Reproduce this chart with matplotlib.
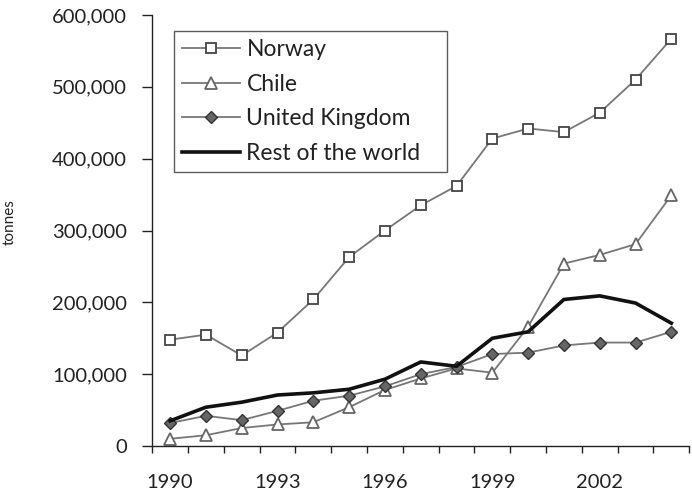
import matplotlib
matplotlib.use("Agg")
import matplotlib.pyplot as plt
import matplotlib.ticker as ticker
import numpy as np

years = list(range(1990, 2005))
norway = [148000, 155000, 126000, 158000, 204000, 263000, 300000, 335000,
          362000, 428000, 442000, 437000, 464000, 510000, 567000]
chile = [10000, 15000, 25000, 30000, 33000, 54000, 78000, 94000,
         108000, 102000, 166000, 254000, 266000, 281000, 349000]
uk = [32000, 42000, 36000, 49000, 63000, 70000, 83000, 100000,
      110000, 128000, 130000, 140000, 144000, 144000, 159000]
rest = [35000, 54000, 61000, 71000, 74000, 79000, 93000, 117000,
        111000, 150000, 159000, 204000, 209000, 199000, 171000]
labels_shown = ["1990", "1993", "1996", "1999", "2002"]

plt.rcParams['font.family'] = ['Lato', 'DejaVu Sans']

fig = plt.figure(figsize=(6.92, 4.92), dpi=100)
ax = fig.add_axes([0.22, 0.0935, 0.776, 0.876])

x = np.arange(len(years))
ax.plot(x, norway, color='#777777', lw=1.3, marker='s', ms=7, mfc='white',
        mec='#444444', mew=1.3, label='Norway')
ax.plot(x, chile, color='#777777', lw=1.3, marker='^', ms=9, mfc='white',
        mec='#666666', mew=1.3, label='Chile')
ax.plot(x, uk, color='#777777', lw=1.3, marker='D', ms=6.5, mfc='#666666',
        mec='#333333', mew=1.0, label='United Kingdom')
ax.plot(x, rest, color='#111111', lw=2.6, label='Rest of the world')

ax.set_xlim(-0.5, len(years) - 0.5)
ax.set_ylim(0, 600000)
ax.yaxis.set_major_locator(ticker.MultipleLocator(100000))
ax.yaxis.set_major_formatter(ticker.FuncFormatter(lambda v, p: f"{int(v):,}"))

# ticks between categories, labels every third year
ax.set_xticks(np.arange(-0.5, len(years), 1.0))
ax.set_xticklabels([])
ax.set_xticks([0, 3, 6, 9, 12], minor=True)
ax.set_xticklabels(labels_shown, minor=True)
ax.tick_params(axis='x', which='major', length=5, width=1, color='#222222')
ax.tick_params(axis='x', which='minor', length=0, pad=20.5, labelsize=14.5,
               labelcolor='#222222')
ax.tick_params(axis='y', length=7, width=1, color='#222222', labelsize=14.5,
               pad=11, labelcolor='#222222')

for s in ['top', 'right']:
    ax.spines[s].set_visible(False)
for s in ['left', 'bottom']:
    ax.spines[s].set_color('#222222')
    ax.spines[s].set_linewidth(1)

ax.set_ylabel('tonnes', fontsize=11, color='#222222')
ax.yaxis.set_label_coords(-0.252, 0.52)

# legend box stretched to the reference width
leg = ax.legend(loc='upper left', bbox_to_anchor=(0.041, 0.0, 0.508, 0.963),
                mode='expand', fontsize=16.5,
                frameon=True, fancybox=False, edgecolor='#333333',
                handlelength=2.5, handletextpad=0.3, borderpad=0.35,
                labelspacing=0.6, borderaxespad=0)
leg.get_frame().set_linewidth(1)
for t in leg.get_texts():
    t.set_color('#222222')

fig.savefig('out.png', dpi=100)
